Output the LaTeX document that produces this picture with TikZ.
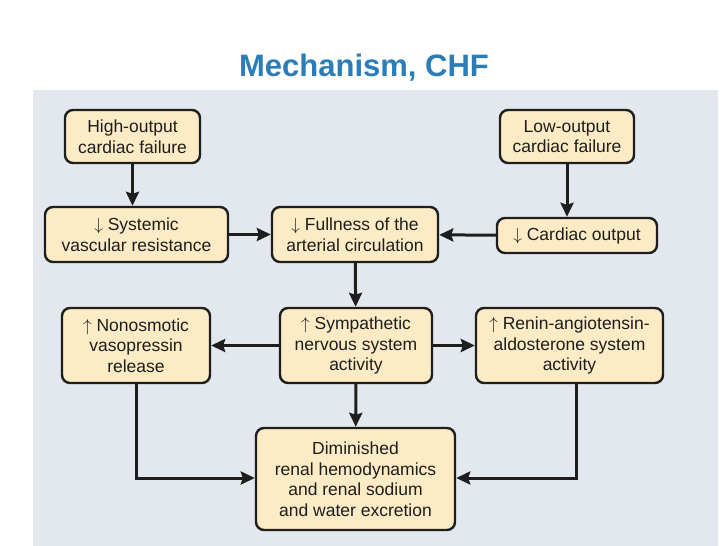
\documentclass[tikz,border=0pt]{standalone}
\usepackage{fontspec}
\setmainfont{Liberation Sans}
\usetikzlibrary{arrows.meta}
\definecolor{ttl}{HTML}{2A7DB8}
\definecolor{panel}{HTML}{E3E8EE}
\definecolor{boxf}{HTML}{FCEBC4}
\definecolor{ln}{HTML}{1E1E1E}
\newcommand{\dn}{$\downarrow$}
\newcommand{\upa}{$\uparrow$}
\begin{document}
\begin{tikzpicture}[x=1pt,y=-1pt,
  box/.style={draw=ln,line width=2.4pt,fill=boxf,rounded corners=8pt,align=center,inner sep=0pt,font=\fontsize{17.5}{20.5}\selectfont,text=ln},
  arr/.style={ln,line width=3pt,-{Stealth[length=14pt,width=13pt,inset=2pt]}}]
\useasboundingbox (0,0) rectangle (728,546);
\fill[white] (0,0) rectangle (728,546);
\fill[panel] (33,90) rectangle (718,546);
\node[font=\bfseries\fontsize{31}{36}\selectfont,text=ttl] (title) at (364,68) {Mechanism, CHF};
\newcommand{\bx}[6]{\node[box,minimum width=#4pt,minimum height=#5pt] (#1) at (#2,#3) {#6};}
\bx{ho}{132.5}{136.5}{135}{53}{High-output\\cardiac failure}
\bx{lo}{567}{136.5}{134}{53}{Low-output\\cardiac failure}
\bx{sv}{136.5}{234.5}{183}{55}{\dn{} Systemic\\vascular resistance}
\bx{fa}{355}{234.5}{166}{55}{\dn{} Fullness of the\\arterial circulation}
\bx{co}{577}{235.5}{160}{35}{\dn{} Cardiac output}
\bx{nv}{136}{345.5}{148}{75}{\upa{} Nonosmotic\\vasopressin\\release}
\bx{sn}{356}{345.5}{152}{75}{\upa{} Sympathetic\\nervous system\\activity}
\bx{ra}{569.5}{345.5}{187}{75}{\upa{} Renin-angiotensin-\\aldosterone system\\activity}
\bx{dr}{355.5}{479}{199}{102}{Diminished\\renal hemodynamics\\and renal sodium\\and water excretion}
\draw[arr] (ho.south) -- (sv.north -| ho.south);
\draw[arr] (lo.south) -- (co.north -| lo.south);
\draw[arr] (sv) -- (fa);
\draw[arr] (co) -- (fa);
\draw[arr] (fa) -- (sn);
\draw[arr] (sn) -- (nv);
\draw[arr] (sn) -- (ra);
\draw[arr] (sn) -- (dr);
\draw[arr] (nv.south) |- (dr.west |- 0,478);
\draw[arr] (ra.south -| 576,0) |- (dr.east |- 0,478);
\end{tikzpicture}
\end{document}
